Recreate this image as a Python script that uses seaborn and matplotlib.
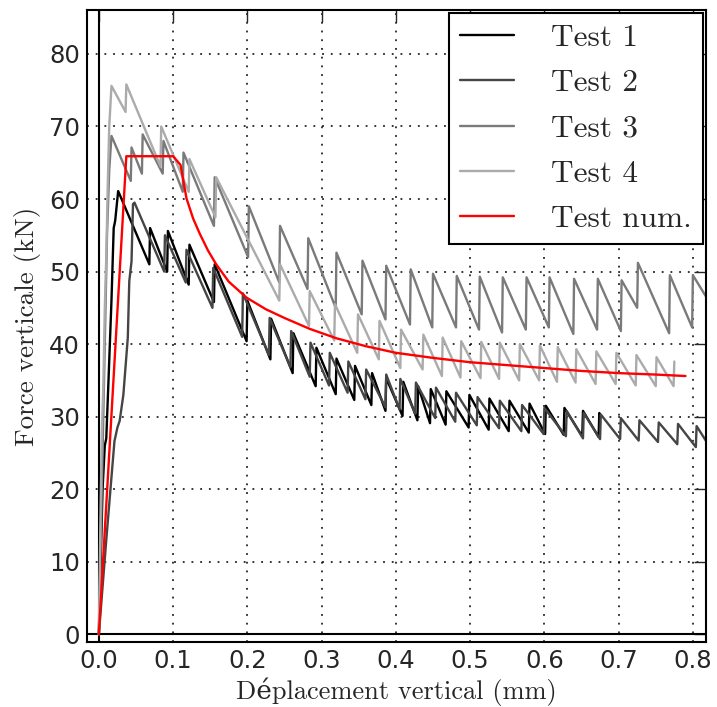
import matplotlib
matplotlib.use("Agg")
import matplotlib.pyplot as plt
import numpy as np
import pandas as pd
import seaborn as sns

# Test 1 (black) - vertices of the sawtooth curve
test1_x = [0.000, 0.005, 0.008, 0.010, 0.013, 0.017, 0.020, 0.022, 0.026,
           0.068, 0.069, 0.092, 0.093, 0.121, 0.122, 0.155, 0.156, 0.199, 0.200,
           0.231, 0.232, 0.261, 0.262, 0.292, 0.293, 0.319, 0.320, 0.344, 0.345,
           0.367, 0.368, 0.386, 0.387, 0.409, 0.410, 0.429, 0.430, 0.446, 0.447,
           0.467, 0.468, 0.498, 0.499, 0.525, 0.526, 0.552, 0.553, 0.579, 0.580,
           0.601, 0.602, 0.626, 0.627, 0.651, 0.652, 0.673, 0.674, 0.676]
test1_y = [0.0, 20.0, 26.0, 27.0, 35.0, 46.0, 56.0, 57.0, 61.1,
           51.0, 56.0, 50.0, 55.6, 48.2, 53.7, 45.8, 51.0, 40.4, 46.0,
           37.9, 43.5, 36.0, 41.5, 34.2, 39.5, 33.1, 38.0, 32.3, 37.0,
           31.6, 36.0, 30.8, 35.3, 30.1, 34.8, 29.5, 34.2, 29.1, 33.8,
           28.9, 33.5, 28.5, 33.0, 28.2, 32.5, 28.0, 32.2, 27.8, 31.8,
           27.6, 31.5, 27.5, 31.2, 27.3, 30.8, 27.2, 30.5, 30.0]

# Test 2 (dark grey)
test2_x = [0.000, 0.010, 0.021, 0.025, 0.028, 0.033, 0.039, 0.041, 0.044, 0.046, 0.048,
           0.088, 0.089, 0.117, 0.118, 0.153, 0.154, 0.193, 0.194, 0.229, 0.230,
           0.258, 0.259, 0.284, 0.285, 0.310, 0.311, 0.335, 0.336, 0.359, 0.360,
           0.386, 0.387, 0.405, 0.406, 0.426, 0.427, 0.453, 0.454, 0.480, 0.481,
           0.509, 0.510, 0.539, 0.540, 0.569, 0.570, 0.599, 0.600, 0.629, 0.630,
           0.652, 0.653, 0.675, 0.676, 0.702, 0.703, 0.727, 0.728, 0.753, 0.754,
           0.779, 0.780, 0.804, 0.805, 0.818]
test2_y = [0.0, 13.0, 26.6, 28.5, 29.4, 33.0, 40.9, 48.7, 51.4, 59.3, 59.5,
           50.0, 55.0, 48.5, 53.0, 45.0, 50.5, 41.0, 47.0, 38.5, 43.6,
           36.8, 41.8, 35.5, 40.2, 34.3, 38.8, 33.3, 37.6, 32.4, 36.5,
           31.3, 35.8, 31.0, 35.2, 30.4, 34.7, 29.8, 34.0, 29.3, 33.3,
           28.8, 32.7, 28.4, 32.2, 28.0, 31.6, 27.6, 31.2, 27.3, 30.8,
           27.0, 30.5, 26.9, 30.3, 26.9, 29.8, 26.7, 29.5, 26.5, 29.2,
           26.2, 29.0, 25.8, 28.7, 26.6]

# Test 3 (medium grey)
test3_x = [0.000, 0.004, 0.008, 0.011, 0.014, 0.017,
           0.043, 0.044, 0.058, 0.059, 0.086, 0.087, 0.113, 0.114, 0.155, 0.156,
           0.201, 0.202, 0.243, 0.244, 0.281, 0.282, 0.319, 0.320, 0.354, 0.355,
           0.386, 0.387, 0.419, 0.420, 0.449, 0.450, 0.481, 0.482, 0.512, 0.513,
           0.543, 0.544, 0.575, 0.576, 0.606, 0.607, 0.639, 0.640, 0.671, 0.672,
           0.703, 0.704, 0.725, 0.726, 0.768, 0.769, 0.799, 0.800, 0.818]
test3_y = [0.0, 20.0, 40.0, 55.0, 64.0, 68.7,
           62.5, 67.1, 63.5, 68.9, 63.5, 68.0, 61.0, 66.4, 56.3, 63.0,
           52.0, 59.0, 48.5, 56.3, 47.6, 54.6, 45.0, 52.6, 44.1, 51.5,
           43.4, 50.8, 42.7, 50.3, 42.3, 49.7, 42.3, 49.4, 42.0, 49.3,
           41.6, 49.2, 42.0, 49.2, 42.3, 49.2, 41.4, 49.0, 42.0, 49.0,
           41.8, 48.8, 45.0, 51.2, 41.5, 49.5, 42.3, 49.5, 46.5]

# Test 4 (light grey)
test4_x = [0.000, 0.002, 0.004, 0.006, 0.008, 0.010, 0.012, 0.014, 0.017,
           0.036, 0.037, 0.083, 0.084, 0.121, 0.122, 0.157, 0.158, 0.243, 0.244,
           0.283, 0.284, 0.317, 0.318, 0.348, 0.349, 0.377, 0.378, 0.406, 0.407,
           0.436, 0.437, 0.462, 0.463, 0.487, 0.488, 0.514, 0.515, 0.539, 0.540,
           0.566, 0.567, 0.593, 0.594, 0.617, 0.618, 0.642, 0.643, 0.669, 0.670,
           0.696, 0.697, 0.723, 0.724, 0.750, 0.751, 0.774, 0.775]
test4_y = [0.0, 15.0, 28.0, 34.0, 45.0, 52.0, 62.0, 70.0, 75.6,
           72.0, 75.8, 64.5, 70.0, 61.0, 65.5, 57.5, 63.0, 46.0, 51.0,
           42.5, 47.3, 40.5, 45.5, 38.8, 44.1, 37.9, 43.2, 36.7, 42.0,
           36.5, 41.3, 35.6, 40.9, 35.4, 40.4, 35.3, 40.3, 35.2, 40.2,
           35.0, 40.0, 35.0, 39.8, 34.8, 39.6, 34.7, 39.3, 34.5, 39.0,
           34.5, 38.8, 34.3, 38.5, 34.2, 38.2, 34.2, 37.6]

# Numerical test (red)
num_x = [0.000, 0.037, 0.100, 0.110, 0.118, 0.127, 0.136, 0.147, 0.158, 0.175,
         0.199, 0.225, 0.250, 0.284, 0.320, 0.360, 0.400, 0.450, 0.500, 0.550,
         0.600, 0.650, 0.700, 0.750, 0.790]
num_y = [0.0, 65.9, 65.9, 64.7, 60.1, 57.3, 55.2, 52.9, 51.0, 48.6,
         46.4, 44.8, 43.6, 42.1, 40.8, 39.7, 38.8, 38.1, 37.5, 37.1,
         36.7, 36.3, 36.0, 35.8, 35.6]

labels = ['Test 1', 'Test 2', 'Test 3', 'Test 4', 'Test num.']
colors = ['#000000', '#454545', '#7a7a7a', '#ababab', '#ff0000']
series = [(test1_x, test1_y), (test2_x, test2_y), (test3_x, test3_y),
          (test4_x, test4_y), (num_x, num_y)]

frames = []
for lab, (xs, ys) in zip(labels, series):
    frames.append(pd.DataFrame({'disp': xs, 'force': ys, 'test': lab}))
df = pd.concat(frames, ignore_index=True)

sns.set_style("white")
plt.rcParams['font.family'] = ['DejaVu Sans']
serif = ['cmr10', 'DejaVu Serif']

fig = plt.figure(figsize=(7.17, 7.07), dpi=100)
ax = fig.add_axes([0.1215, 0.092, 0.8635, 0.894])

sns.lineplot(data=df, x='disp', y='force', hue='test', hue_order=labels,
             palette=dict(zip(labels, colors)), sort=False, estimator=None,
             linewidth=1.7, ax=ax)

ax.axvline(0, color='k', lw=1.5, zorder=1)
ax.axhline(0, color='k', lw=1.5, zorder=1)

ax.set_xlim(-0.0158, 0.818)
ax.set_ylim(-1.06, 86.07)
ax.set_xticks(np.arange(0, 0.81, 0.1))
ax.set_yticks(np.arange(0, 81, 10))
ax.set_xticklabels([f'{v:.1f}' for v in np.arange(0, 0.81, 0.1)])
ax.grid(True, color='k', linestyle=(0, (1.2, 4.5)), linewidth=1.1)
ax.tick_params(direction='in', length=8.5, width=1, top=True, right=True,
               labelsize=17.5, pad=5)
for sp in ax.spines.values():
    sp.set_linewidth(1.5)
    sp.set_color('k')

ax.set_xlabel('Déplacement vertical (mm)', fontsize=19, family=serif, labelpad=3)
ax.set_ylabel('Force verticale (kN)', fontsize=19.5, family=serif, labelpad=6)

leg = ax.legend(loc='upper right', fancybox=False, framealpha=1, edgecolor='k',
                prop={'family': serif, 'size': 22.5}, borderaxespad=0.1,
                handlelength=1.7, handletextpad=1.2, borderpad=0.36,
                labelspacing=0.55)
leg.get_frame().set_linewidth(1.5)
for line in leg.get_lines():
    line.set_linewidth(1.7)

fig.savefig('out.png', dpi=100)
